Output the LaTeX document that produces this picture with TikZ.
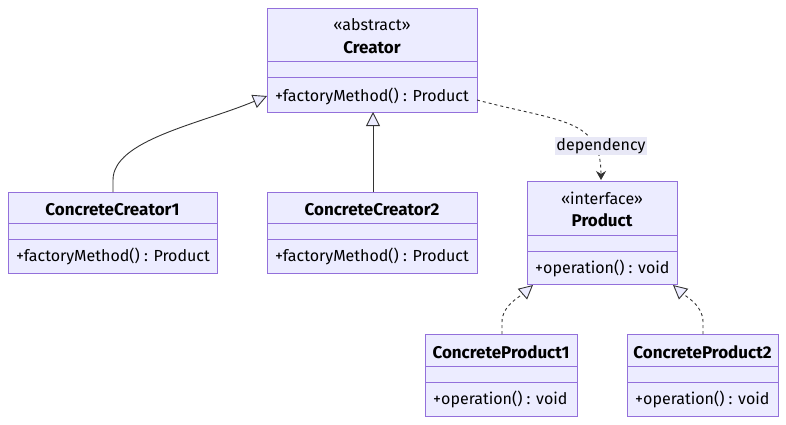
\documentclass[tikz,border=0pt]{standalone}
\usepackage{fontspec}
\setmainfont{Fira Sans}
\usetikzlibrary{arrows.meta}
\definecolor{boxfill}{HTML}{ECECFF}
\definecolor{boxline}{HTML}{9370DB}
\definecolor{edge}{HTML}{333333}
\definecolor{lblfill}{HTML}{E8E8F6}
\tikzset{
  umlbox/.style={draw=boxline, fill=boxfill, line width=1pt, anchor=north west, inner sep=0pt, outer sep=0pt},
  divider/.style={draw=boxline, line width=1pt},
  txt/.style={font=\fontsize{16}{18}\selectfont, text=black, inner sep=0pt},
  ttl/.style={font=\fontsize{17}{19}\selectfont\bfseries, text=black, inner sep=0pt},
  inherit/.style={draw=edge, line width=0.9pt, -{Triangle[open, length=14pt, width=14pt, fill=boxfill]}},
  realize/.style={inherit, dash pattern=on 3pt off 3pt},
  depend/.style={draw=edge, line width=0.9pt, dash pattern=on 3pt off 3pt, -{Stealth[length=9pt, width=10pt]}},
  lbl/.style={font=\fontsize{16}{18}\selectfont, fill=lblfill, inner sep=1pt, text=black}
}
\begin{document}
\begin{tikzpicture}[x=1pt, y=-1pt]
\useasboundingbox (0,0) rectangle (786,424);
% Creator
\node[umlbox, minimum width=210pt, minimum height=104pt] (creator) at (267,8) {};
\draw[divider] (267,61) -- (477,61);
\draw[divider] (267,77) -- (477,77);
\node[txt] (creatorst) at (372,25) {«abstract»};
\node[ttl] (creatort) at (372,48) {Creator};
\node[txt, anchor=west] (creatorm) at (275,96) {+factoryMethod() : Product};
% ConcreteCreator1
\node[umlbox, minimum width=209pt, minimum height=81pt] (cc1) at (8,192) {};
\draw[divider] (8,223) -- (217,223);
\draw[divider] (8,239) -- (217,239);
\node[ttl] (cc1t) at (112.5,210) {ConcreteCreator1};
\node[txt, anchor=west] (cc1m) at (16,256) {+factoryMethod() : Product};
% ConcreteCreator2
\node[umlbox, minimum width=210pt, minimum height=81pt] (cc2) at (267,192) {};
\draw[divider] (267,223) -- (477,223);
\draw[divider] (267,239) -- (477,239);
\node[ttl] (cc2t) at (372,210) {ConcreteCreator2};
\node[txt, anchor=west] (cc2m) at (275,256) {+factoryMethod() : Product};
% Product
\node[umlbox, minimum width=150pt, minimum height=103pt] (product) at (527,181) {};
\draw[divider] (527,235) -- (677,235);
\draw[divider] (527,251) -- (677,251);
\node[txt] (productst) at (602,198) {«interface»};
\node[ttl] (productt) at (602,220) {Product};
\node[txt, anchor=west] (productm) at (535,268) {+operation() : void};
% ConcreteProduct1
\node[umlbox, minimum width=152pt, minimum height=82pt] (cp1) at (425,334) {};
\draw[divider] (425,366) -- (577,366);
\draw[divider] (425,382) -- (577,382);
\node[ttl] (cp1t) at (501,352) {ConcreteProduct1};
\node[txt, anchor=west] (cp1m) at (433,399) {+operation() : void};
% ConcreteProduct2
\node[umlbox, minimum width=151pt, minimum height=82pt] (cp2) at (627,334) {};
\draw[divider] (627,366) -- (778,366);
\draw[divider] (627,382) -- (778,382);
\node[ttl] (cp2t) at (702.5,352) {ConcreteProduct2};
\node[txt, anchor=west] (cp2m) at (635,399) {+operation() : void};
% Edges
\coordinate (cc1top) at (113,192);
\coordinate (creatorleft) at (267,96);
\draw[inherit] (cc1top) -- (113,180) .. controls (113,140) and (200,124) .. (creatorleft);
\draw[inherit] (cc2.north -| 373,0) -- (creator.south -| 373,0);
\coordinate (creatorright) at (477,100);
\coordinate (producttop) at (601,180);
\draw[depend] (creatorright) .. controls (560,122) and (601,118) .. (producttop);
\node[lbl] (deplbl) at (601,146) {dependency};
\coordinate (cp1top) at (502,334);
\coordinate (prodbl) at (533,285);
\draw[realize] (cp1top) -- (502,322) .. controls (502,306) and (518,298) .. (prodbl);
\coordinate (cp2top) at (703,334);
\coordinate (prodbr) at (673,285);
\draw[realize] (cp2top) -- (703,322) .. controls (703,306) and (688,298) .. (prodbr);
\end{tikzpicture}
\end{document}
